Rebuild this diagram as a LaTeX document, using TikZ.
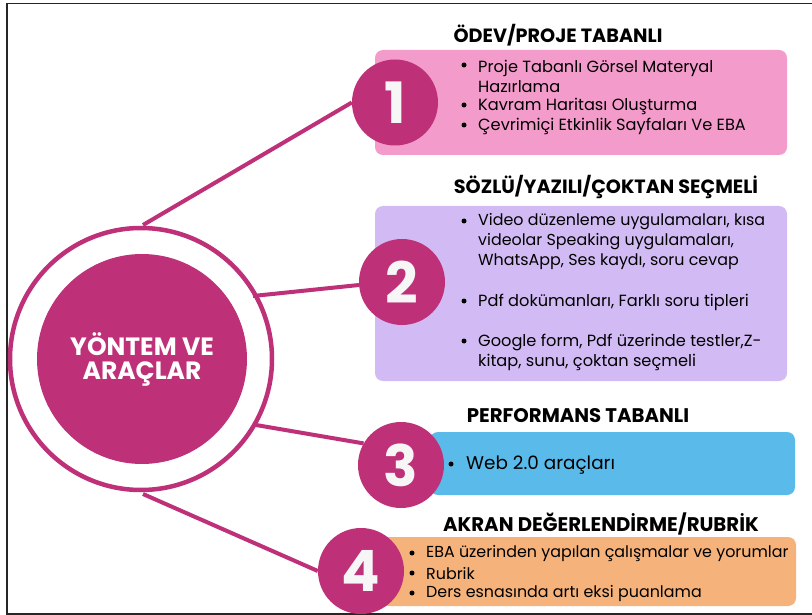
\documentclass[tikz,border=0pt]{standalone}
\usepackage{fontspec}
\setmainfont{Poppins}
\definecolor{mag}{HTML}{BE3078}
\definecolor{pinkb}{HTML}{F39BCB}
\definecolor{lilac}{HTML}{D2BBF4}
\definecolor{skyb}{HTML}{5ABBEA}
\definecolor{orang}{HTML}{F5B27A}
\definecolor{numw}{HTML}{F6F6F6}
\tikzset{x=1pt,y=-1pt,
 numc/.style={circle,fill=mag,text=numw,minimum size=86pt,inner sep=0pt,font=\fontsize{57}{57}\selectfont\bfseries},
 conn/.style={draw=mag,line width=4pt},
 bx/.style={rounded corners=8pt},
 head/.style={font=\fontsize{19.2}{22}\selectfont\bfseries,text=black,inner sep=0pt,yshift=-1pt},
 headb/.style={head,font=\fontsize{19.7}{22}\selectfont\bfseries},
 itm/.style={font=\fontsize{16.2}{20}\selectfont,text=black,inner sep=0pt,anchor=west,align=left,yshift=-1pt},
 itmb/.style={itm,font=\fontsize{15.9}{20}\selectfont},
 itmc/.style={itm,font=\fontsize{18.4}{20}\selectfont},
 dot/.style={circle,fill=black,minimum size=5pt,inner sep=0pt}}
\begin{document}
\begin{tikzpicture}
\useasboundingbox (0,0) rectangle (812,615);
\fill[white] (0,0) rectangle (812,615);
\draw[black!85,line width=1.2pt] (812,3.5) -- (7,3.5) -- (7,614) -- (812,614);
\fill[bx,pinkb] (375,50) rectangle (787,155);
\fill[bx,lilac] (375,206) rectangle (787,381);
\fill[bx,skyb] (430,432) rectangle (795,495);
\fill[bx,orang] (380,537) rectangle (796,606);
\node[draw=mag,line width=4.5pt,circle,minimum size=262pt,inner sep=0pt] (ring) at (141,359) {};
\node[circle,fill=mag,minimum size=210pt,inner sep=0pt,text=white,align=center,font=\fontsize{25}{24}\selectfont\bfseries] (hub) at (142,359) {YÖNTEM VE\\ARAÇLAR};
\node[numc] (n1) at (395,102.5) {1};
\node[numc] (n2) at (402,282) {2};
\node[numc] (n3) at (401,465) {3};
\node[numc] (n4) at (361,571) {4};
\coordinate (c1) at (143,225);
\coordinate (c2) at (253,296);
\coordinate (c3) at (256,425);
\coordinate (c4) at (143,494);
\draw[conn] (c1) -- (n1.180);
\draw[conn] (c2) -- (n2.184);
\draw[conn] (c3) -- (n3.150);
\draw[conn] (c4) -- (n4.180);
\node[head] (h1) at (558,34) {ÖDEV/PROJE TABANLI};
\node[head] (h2) at (606,186) {SÖZLÜ/YAZILI/ÇOKTAN SEÇMELİ};
\node[headb] (h3) at (578,415) {PERFORMANS TABANLI};
\node[headb] (h4) at (601,523) {AKRAN DEĞERLENDİRME/RUBRİK};
\node[dot] at (464,65) {};
\node[itm] (a1) at (478,75) {Proje Tabanlı Görsel Materyal\\Hazırlama};
\node[dot] at (464,105) {};
\node[itm] (a2) at (478,105) {Kavram Haritası Oluşturma};
\node[dot] at (464,125) {};
\node[itm] (a3) at (478,125) {Çevrimiçi Etkinlik Sayfaları Ve EBA};
\node[dot] at (464,221) {};
\node[itmb] (b1) at (478,241) {Video düzenleme uygulamaları, kısa\\videolar Speaking uygulamaları,\\WhatsApp, Ses kaydı, soru cevap};
\node[dot] at (464,301) {};
\node[itm] (b2) at (478,301) {Pdf dokümanları, Farklı soru tipleri};
\node[dot] at (464,341) {};
\node[itm] (b3) at (478,351) {Google form, Pdf üzerinde testler,Z-\\kitap, sunu, çoktan seçmeli};
\node[dot] at (451,464) {};
\node[itmc] (c1t) at (466,464) {Web 2.0 araçları};
\node[dot] at (412,553) {};
\node[itmb] (d1) at (426,553) {EBA üzerinden yapılan çalışmalar ve yorumlar};
\node[dot] at (412,573) {};
\node[itmb] (d2) at (426,573) {Rubrik};
\node[dot] at (412,593) {};
\node[itmb] (d3) at (426,593) {Ders esnasında artı eksi puanlama};
\end{tikzpicture}
\end{document}
